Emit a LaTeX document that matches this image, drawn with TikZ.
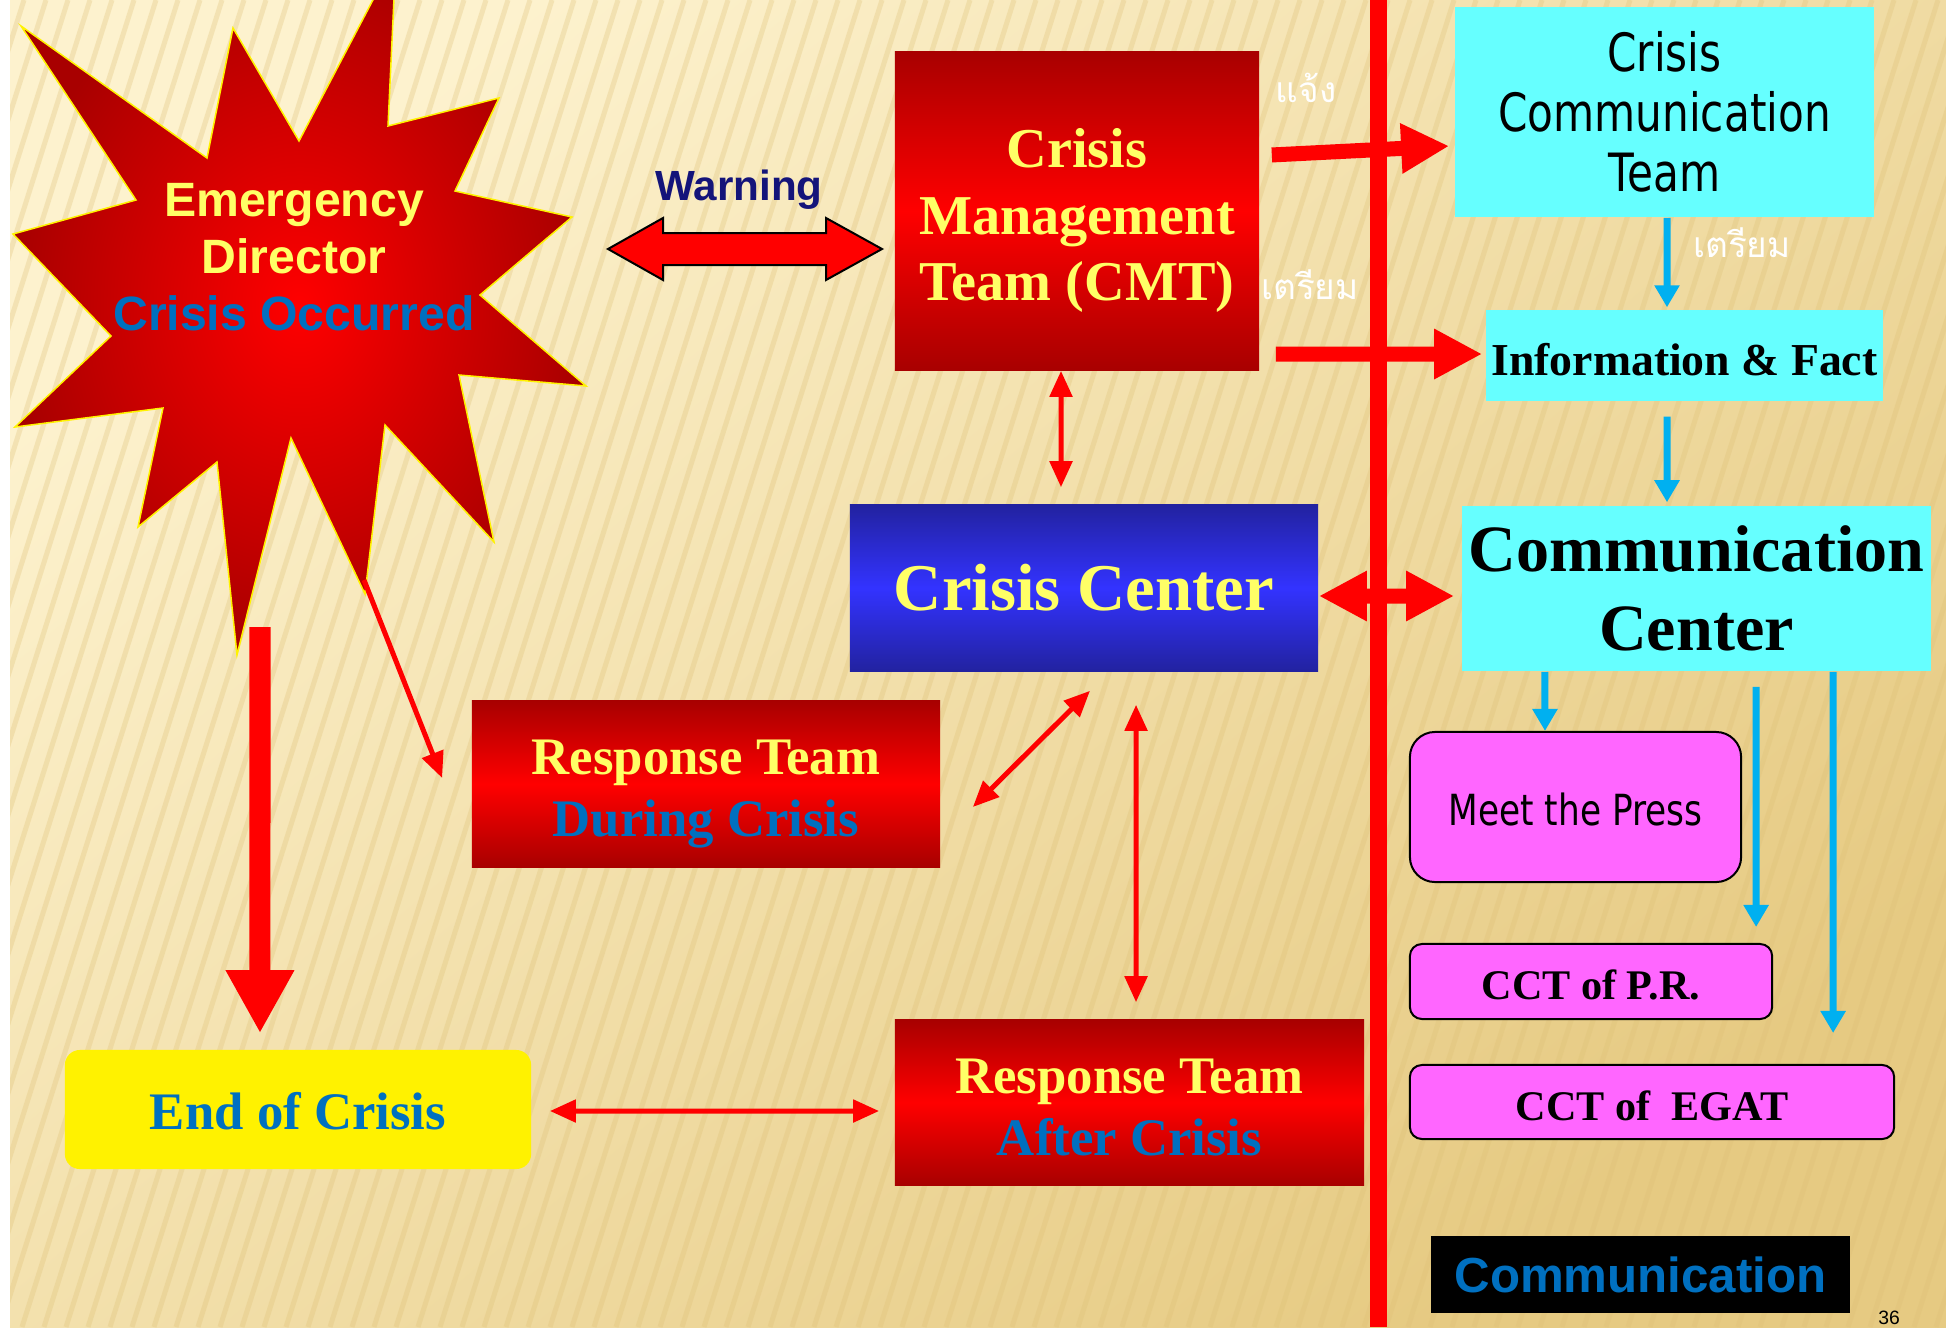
\documentclass[tikz,border=0pt]{standalone}
\usepackage{fontspec}
\setmainfont{Liberation Serif}
\setsansfont{Liberation Sans}
\newfontfamily\tahoma[FakeStretch=0.8]{DejaVu Sans}
\newfontfamily\thaifont[Script=Thai]{Loma}
\usetikzlibrary{arrows.meta}

\definecolor{darkred}{RGB}{168,0,0}
\definecolor{brightred}{RGB}{255,0,0}
\definecolor{textyellow}{RGB}{255,255,102}
\definecolor{textblue}{RGB}{0,112,192}
\definecolor{navy}{RGB}{20,20,122}
\definecolor{cyanfill}{RGB}{102,255,255}
\definecolor{pinkfill}{RGB}{255,102,255}
\definecolor{linkblue}{RGB}{0,176,240}
\definecolor{centerblue}{RGB}{51,51,255}
\definecolor{deepblue}{RGB}{34,34,160}
\definecolor{paperlight}{RGB}{253,242,206}
\definecolor{paperdark}{RGB}{230,202,130}
\definecolor{stripecol}{RGB}{222,192,118}

\tikzset{
	stripe/.style={stripecol, line width=0.05cm, opacity=0.3},
	starfill/.style={draw=yellow, line width=0.015cm, inner color=brightred, outer color=darkred},
	redbox/.style={rectangle, inner sep=0pt, align=center, top color=darkred, bottom color=darkred, middle color=brightred},
	bluebox/.style={rectangle, inner sep=0pt, align=center, top color=deepblue, bottom color=deepblue, middle color=centerblue},
	cyanbox/.style={rectangle, fill=cyanfill, inner sep=0pt, align=center},
	pinkbox/.style={rectangle, fill=pinkfill, draw=black, line width=0.02cm, inner sep=0pt, align=center},
	thai/.style={text=white, font=\thaifont\fontsize{10}{12}\selectfont, inner sep=0pt},
	fatlink/.style={brightred, line width=0.15cm, -{Triangle[length=0.48cm,width=0.47cm]}},
	fatboth/.style={brightred, line width=0.15cm, {Triangle[length=0.48cm,width=0.47cm]}-{Triangle[length=0.48cm,width=0.47cm]}},
	redlink/.style={brightred, line width=0.05cm, {Triangle[length=0.26cm,width=0.22cm]}-{Triangle[length=0.26cm,width=0.22cm]}},
	redarrow/.style={brightred, line width=0.05cm, -{Triangle[length=0.26cm,width=0.22cm]}},
	bluelink/.style={linkblue, line width=0.07cm, -{Triangle[length=0.22cm,width=0.24cm]}}
}

\begin{document}
\begin{tikzpicture}[x=0.01cm,y=-0.01cm]
	\useasboundingbox (0,0) rectangle (1946,1327);
	%Background
	\fill[white] (0,0) rectangle (1946,1327);
	\shade[top color=paperlight, bottom color=paperdark, shading angle=40] (10,0) rectangle (1946,1327);
	\begin{scope}
		\clip (10,0) rectangle (1946,1327);
		\foreach \s in {-25,...,90}
			\draw[stripe] (\s*22,1327) -- ++(420,-1327);
	\end{scope}
	
	%Divider
	\draw[brightred, line width=0.17cm] (1378,0) -- (1378,1327);
	
	%Emergency Director
	\draw[starfill] (21,26) -- (207,158) -- (233,28) -- (299,141) -- (396,-44) -- (388,126)
		-- (499,98) -- (455,191) -- (572,217) -- (480,295) -- (586,386) -- (459,375)
		-- (494,542) -- (385,425) -- (365,594) -- (291,438) -- (237,655) -- (217,462)
		-- (138,527) -- (163,408) -- (15,427) -- (111,336) -- (13,234) -- (136,200) -- cycle;
	\node[align=center, text=textyellow, font=\sffamily\bfseries\fontsize{13.7}{16.2}\selectfont] (ED) at (294,257)
		{Emergency\\Director\\{\color{textblue}Crisis Occurred}};
	\coordinate (EDtip) at (364,580);
	\coordinate (EDfoot) at (260,627);
	
	%Warning
	\node[text=navy, font=\sffamily\bfseries\fontsize{12}{14}\selectfont] (W) at (739,190) {Warning};
	\draw[black, fill=brightred, line width=0.02cm] (608,249) -- (663,218) -- (663,233) -- (826,233) -- (826,218)
		-- (882,249) -- (826,280) -- (826,265) -- (663,265) -- (663,280) -- cycle;
	
	%Crisis Management Team
	\node[redbox, minimum width=3.64cm, minimum height=3.18cm, text=textyellow,
		font=\bfseries\fontsize{16}{19}\selectfont] (CMT) at (1077,211) {\rule{0pt}{16.5pt}Crisis\\Management\\Team (CMT)};
	
	%Crisis Center
	\node[bluebox, minimum width=4.68cm, minimum height=1.66cm, text=textyellow,
		font=\bfseries\fontsize{19}{22}\selectfont] (CC) at (1084,588) {Crisis Center};
	
	%Response Teams
	\node[redbox, minimum width=4.68cm, minimum height=1.66cm, text=textyellow,
		font=\bfseries\fontsize{15}{17.6}\selectfont] (RTD) at (706,784) {\rule{0pt}{15.3pt}Response Team\\{\color{textblue}During Crisis}};
	\node[redbox, minimum width=4.69cm, minimum height=1.65cm, text=textyellow,
		font=\bfseries\fontsize{15}{17.6}\selectfont] (RTA) at (1129.5,1102.5) {\rule{0pt}{12.5pt}Response Team\\{\color{textblue}After Crisis}};
	
	%End of Crisis
	\node[rectangle, fill=yellow, rounded corners=0.15cm, minimum width=4.66cm, minimum height=1.19cm, text=textblue,
		font=\bfseries\fontsize{15}{17}\selectfont] (End) at (298,1109.5) {\rule{0pt}{11.5pt}End of Crisis};
	
	%Communication side
	\node[cyanbox, minimum width=4.19cm, minimum height=2.10cm, font=\tahoma\fontsize{15}{17}\selectfont] (CCT) at (1664.5,112)
		{Crisis\\Communication\\Team};
	\node[cyanbox, minimum width=3.97cm, minimum height=0.91cm, font=\bfseries\fontsize{13}{15}\selectfont] (Info) at (1684.5,355.5)
		{\rule{0pt}{11.5pt}Information \& Fact};
	\node[cyanbox, minimum width=4.69cm, minimum height=1.65cm, font=\bfseries\fontsize{18.8}{22.5}\selectfont] (ComC) at (1696.5,588.5)
		{Communication\\Center};
	\node[pinkbox, rounded corners=0.25cm, minimum width=3.31cm, minimum height=1.50cm, font=\tahoma\fontsize{12.2}{14}\selectfont]
		(Press) at (1575.5,807) {\rule{0pt}{10.5pt}Meet the Press};
	\node[pinkbox, rounded corners=0.12cm, minimum width=3.62cm, minimum height=0.75cm, font=\bfseries\fontsize{12}{14}\selectfont]
		(PR) at (1591,981.5) {\rule{0pt}{10.5pt}CCT of P.R.};
	\node[pinkbox, rounded corners=0.12cm, minimum width=4.84cm, minimum height=0.74cm, font=\bfseries\fontsize{12}{14}\selectfont]
		(EGAT) at (1652,1102) {\rule{0pt}{10.5pt}CCT of\ \ EGAT};
	\node[rectangle, fill=black, minimum width=4.19cm, minimum height=0.77cm, text=textblue,
		font=\sffamily\bfseries\fontsize{14}{16}\selectfont] (Comm) at (1640.5,1274.5) {Communication};
	\node[font=\sffamily\fontsize{5.5}{6}\selectfont, inner sep=0pt] (Page) at (1889,1318) {36};
	
	%Thai labels
	\node[thai] (T1) at (1306,88) {แจ้ง};
	\node[thai] (T2) at (1310,285) {เตรียม};
	\node[thai] (T3) at (1742,243) {เตรียม};
	
	%Links
	\draw[fatlink] ([xshift=0.12cm,yshift=0.56cm]CMT.east) -- ([xshift=-0.05cm,yshift=-0.34cm]CCT.west);
	\draw[fatlink] ([xshift=0.16cm,yshift=-1.43cm]CMT.east) -- ([xshift=-0.03cm,yshift=0.015cm]Info.west);
	\draw[fatboth] ([yshift=-0.08cm]CC.east) -- ([xshift=-0.07cm,yshift=-0.075cm]ComC.west);
	\draw[brightred, line width=0.21cm, -{Triangle[length=0.63cm,width=0.64cm]}] (EDfoot) -- ([xshift=-0.38cm,yshift=0.16cm]End.north);
	\draw[redarrow] (EDtip) -- ([xshift=-0.29cm,yshift=0.06cm]RTD.west);
	\draw[redlink] ([xshift=-0.16cm]CMT.south) -- ([xshift=-0.23cm,yshift=0.17cm]CC.north);
	\draw[redlink] ([xshift=0.06cm,yshift=-0.19cm]CC.south) -- ([xshift=0.32cm,yshift=-0.23cm]RTD.east);
	\draw[redlink] ([xshift=0.52cm,yshift=-0.33cm]CC.south) -- ([xshift=0.065cm,yshift=0.17cm]RTA.north);
	\draw[redlink] ([xshift=0.18cm,yshift=-0.015cm]End.east) -- ([xshift=-0.15cm,yshift=-0.085cm]RTA.west);
	\draw[bluelink] ([xshift=0.025cm]CCT.south) -- ([xshift=-0.175cm,yshift=0.02cm]Info.north);
	\draw[bluelink] ([xshift=-0.175cm,yshift=-0.15cm]Info.south) -- ([xshift=-0.295cm,yshift=0.03cm]ComC.north);
	\draw[bluelink] ([xshift=-1.515cm]ComC.south) -- ([xshift=-0.305cm]Press.north);
	\draw[bluelink] ([xshift=0.595cm,yshift=-0.15cm]ComC.south) -- ([xshift=1.65cm,yshift=0.16cm]PR.north);
	\draw[bluelink] ([xshift=1.365cm]ComC.south) -- ([xshift=1.81cm,yshift=0.31cm]EGAT.north);
\end{tikzpicture}
\end{document}
